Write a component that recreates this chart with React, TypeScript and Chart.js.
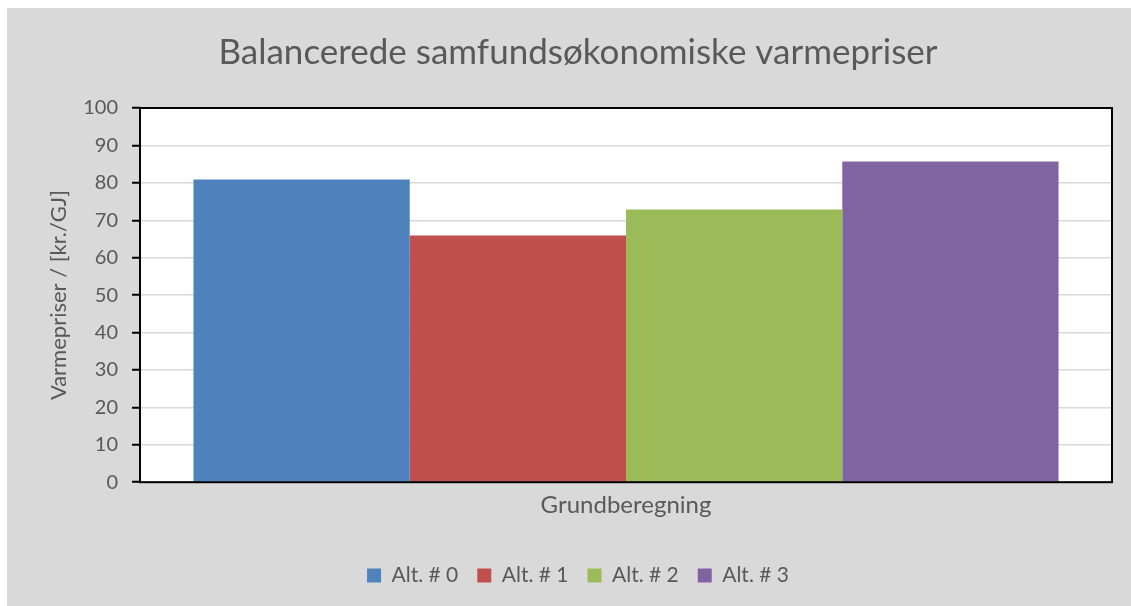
import React, { useEffect, useRef } from "react";
import { Chart, registerables } from "chart.js";

Chart.register(...registerables);

const chartTitle = "Balancerede samfundsøkonomiske varmepriser";
const yAxisTitle = "Varmepriser / [kr./GJ]";
const categories = ["Grundberegning"];
const seriesNames = ["Alt. # 0", "Alt. # 1", "Alt. # 2", "Alt. # 3"];
const alt0Values = [80.9];
const alt1Values = [65.9];
const alt2Values = [72.9];
const alt3Values = [85.7];
const seriesColors = ["#4f81bd", "#c0504d", "#9bbb59", "#8064a2"];
const yMin = 0;
const yMax = 100;
const yStep = 10;

const TEXT = "#595959";
const FONT = "Lato, 'Open Sans', sans-serif";

const plotBackground = {
  id: "plotBackground",
  beforeDraw(chart: any) {
    const { ctx, chartArea } = chart;
    ctx.save();
    ctx.fillStyle = "#ffffff";
    ctx.fillRect(chartArea.left, chartArea.top, chartArea.right - chartArea.left, chartArea.bottom - chartArea.top);
    ctx.restore();
  },
  afterDatasetsDraw(chart: any) {
    const { ctx, chartArea } = chart;
    ctx.save();
    ctx.strokeStyle = "#000000";
    ctx.lineWidth = 2;
    ctx.strokeRect(chartArea.left, chartArea.top, chartArea.right - chartArea.left, chartArea.bottom - chartArea.top);
    ctx.restore();
  },
};

export default function App() {
  const canvasRef = useRef<HTMLCanvasElement | null>(null);

  useEffect(() => {
    const canvas = canvasRef.current;
    if (!canvas) return;
    const values = [alt0Values, alt1Values, alt2Values, alt3Values];
    const chart = new Chart(canvas, {
      type: "bar",
      data: {
        labels: categories,
        datasets: seriesNames.map((name, i) => ({
          label: name,
          data: values[i],
          backgroundColor: seriesColors[i],
          borderWidth: 0,
          barPercentage: 1,
          categoryPercentage: 0.89,
        })),
      },
      options: {
        responsive: false,
        animation: false,
        layout: { padding: { left: 37, right: 19, top: 0, bottom: 10 } },
        plugins: {
          tooltip: { enabled: false },
          title: {
            display: true,
            text: chartTitle,
            color: TEXT,
            font: { family: FONT, size: 35, weight: "normal" },
            padding: { top: 24, bottom: 34 },
          },
          legend: {
            position: "bottom",
            labels: {
              color: TEXT,
              font: { family: FONT, size: 21 },
              boxWidth: 14,
              boxHeight: 14,
              padding: 19,
            },
          },
        },
        scales: {
          x: {
            grid: { display: false, drawTicks: false },
            border: { display: false },
            ticks: { color: TEXT, font: { family: FONT, size: 24 }, padding: 9 },
            afterFit(scale: any) {
              scale.height += 17;
            },
          },
          y: {
            min: yMin,
            max: yMax,
            ticks: { stepSize: yStep, color: TEXT, font: { family: FONT, size: 20 }, padding: 14 },
            grid: { color: "#d9d9d9", lineWidth: 1.5, tickColor: "#000000", tickWidth: 2, tickLength: 8 },
            border: { display: false },
            title: {
              display: true,
              text: yAxisTitle,
              color: TEXT,
              font: { family: FONT, size: 22 },
              padding: { top: 2, bottom: 0 },
            },
            afterFit(scale: any) {
              scale.width = 96;
            },
          },
        },
      },
      plugins: [plotBackground],
    });
    return () => chart.destroy();
  }, []);

  return (
    <div
      style={{
        position: "absolute",
        left: 7,
        top: 8,
        width: 1124,
        height: 598,
        background: "#d9d9d9",
        overflow: "hidden",
      }}
    >
      <canvas ref={canvasRef} width={1124} height={598} style={{ display: "block" }} />
    </div>
  );
}
